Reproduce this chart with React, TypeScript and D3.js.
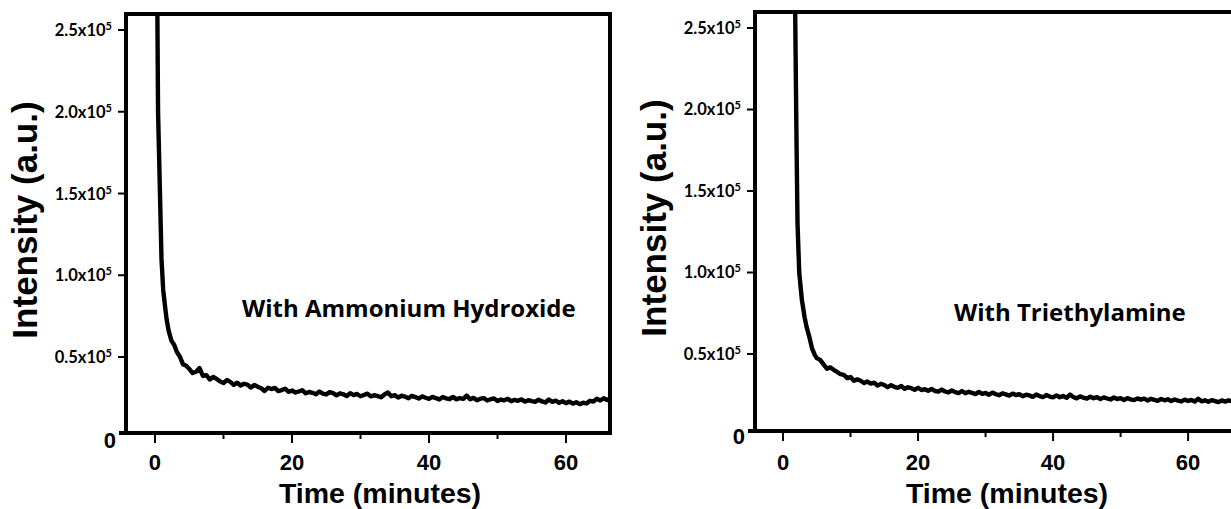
import React from "react";
import * as d3 from "d3";

// ---------- DATA ----------
const X_MAJOR_TICKS = [0, 20, 40, 60];
const X_MINOR_TICKS = [10, 30, 50];
const Y_TICKS = [50000, 100000, 150000, 200000, 250000];
const Y_TICK_MANTISSA = ["0.5", "1.0", "1.5", "2.0", "2.5"];
const Y_TICK_EXP = "5";
const X_TITLE = "Time (minutes)";
const Y_TITLE = "Intensity (a.u.)";
const LABEL_A = "With Ammonium Hydroxide";
const LABEL_B = "With Triethylamine";

// Panel A (ammonium hydroxide): time in minutes, intensity in thousands of counts
const TIME_A = [
  0.3, 0.35, 0.45, 0.73, 0.95, 1.2, 1.5, 1.7, 2.0, 2.4, 2.8, 3.2, 3.6, 4.1, 4.5,
  5.0, 5.5, 6.0, 6.5, 7.0, 7.5, 8.0, 8.5, 9.0, 9.5, 10.0, 10.5, 11.0, 11.5, 12.0, 12.5,
  13.0, 13.5, 14.0, 14.5, 15.0, 15.5, 16.0, 16.5, 17.0, 17.5, 18.0, 18.5, 19.0, 19.5,
  20.0, 20.5, 21.0, 21.5, 22.0, 22.5, 23.0, 23.5, 24.0, 24.5, 25.0, 25.5, 26.0, 26.5,
  27.0, 27.5, 28.0, 28.5, 29.0, 29.5, 30.0, 30.5, 31.0, 31.5, 32.0, 32.5, 33.0, 33.5,
  34.0, 34.5, 35.0, 35.5, 36.0, 36.5, 37.0, 37.5, 38.0, 38.5, 39.0, 39.5, 40.0, 40.5,
  41.0, 41.5, 42.0, 42.5, 43.0, 43.5, 44.0, 44.5, 45.0, 45.5, 46.0, 46.5, 47.0, 47.5,
  48.0, 48.5, 49.0, 49.5, 50.0, 50.5, 51.0, 51.5, 52.0, 52.5, 53.0, 53.5, 54.0, 54.5,
  55.0, 55.5, 56.0, 56.5, 57.0, 57.5, 58.0, 58.5, 59.0, 59.5, 60.0, 60.5, 61.0, 61.5,
  62.0, 62.5, 63.0, 63.5, 64.0, 64.5, 65.0, 65.5, 66.0, 66.4,
];
const INTENSITY_A = [
  400, 260, 200, 150, 110, 91, 80, 73, 66, 60, 57.5, 53.0, 50.5, 45.5, 44.8,
  42.8, 40.2, 41.0, 43.2, 38.4, 38.9, 36.3, 37.8, 36.6, 35.1, 34.1, 35.9, 34.8, 33.0, 34.3, 32.6,
  33.6, 33.1, 31.3, 32.9, 31.8, 30.9, 29.2, 31.2, 30.4, 31.1, 29.2, 29.8, 30.6, 28.7,
  29.5, 28.3, 28.9, 29.7, 27.8, 28.6, 28.1, 27.2, 28.9, 27.6, 27.1, 28.5, 27.9, 26.6,
  27.8, 27.2, 26.2, 27.9, 26.7, 27.4, 26.0, 26.8, 27.6, 25.9, 26.6, 26.1, 25.4, 27.1,
  28.3, 26.0, 26.7, 25.2, 26.3, 25.8, 24.8, 26.2, 25.5, 24.6, 25.9, 25.1, 24.4, 25.6,
  24.9, 24.0, 25.5, 24.7, 24.2, 25.6, 24.1, 24.9, 24.4, 26.4, 24.2, 25.0, 23.6, 24.5,
  24.9, 23.4, 24.2, 24.6, 23.1, 24.0, 23.5, 24.4, 22.9, 23.8, 23.2, 24.1, 22.7, 23.6,
  23.0, 22.6, 23.9, 22.8, 22.2, 24.0, 22.6, 23.3, 22.0, 22.9, 21.8, 22.7, 21.5, 22.3,
  21.2, 22.0, 21.6, 23.2, 22.8, 24.5, 23.4, 24.8, 23.7, 24.4,
];

// Panel B (triethylamine)
const TIME_B = [
  1.7, 1.8, 2.0, 2.15, 2.4, 2.8, 3.2, 3.5, 3.9, 4.3, 4.7,
  5.0, 5.5, 6.0, 6.5, 7.0, 7.5, 8.0, 8.5, 9.0, 9.5, 10.0, 10.5, 11.0, 11.5, 12.0, 12.5,
  13.0, 13.5, 14.0, 14.5, 15.0, 15.5, 16.0, 16.5, 17.0, 17.5, 18.0, 18.5, 19.0, 19.5,
  20.0, 20.5, 21.0, 21.5, 22.0, 22.5, 23.0, 23.5, 24.0, 24.5, 25.0, 25.5, 26.0, 26.5,
  27.0, 27.5, 28.0, 28.5, 29.0, 29.5, 30.0, 30.5, 31.0, 31.5, 32.0, 32.5, 33.0, 33.5,
  34.0, 34.5, 35.0, 35.5, 36.0, 36.5, 37.0, 37.5, 38.0, 38.5, 39.0, 39.5, 40.0, 40.5,
  41.0, 41.5, 42.0, 42.5, 43.0, 43.5, 44.0, 44.5, 45.0, 45.5, 46.0, 46.5, 47.0, 47.5,
  48.0, 48.5, 49.0, 49.5, 50.0, 50.5, 51.0, 51.5, 52.0, 52.5, 53.0, 53.5, 54.0, 54.5,
  55.0, 55.5, 56.0, 56.5, 57.0, 57.5, 58.0, 58.5, 59.0, 59.5, 60.0, 60.5, 61.0, 61.5,
  62.0, 62.5, 63.0, 63.5, 64.0, 64.5, 65.0, 65.5, 66.0, 66.5,
];
const INTENSITY_B = [
  400, 260, 180, 130, 100, 83, 72.5, 66.5, 60.5, 53.5, 49.5,
  47.5, 46.4, 43.6, 41.0, 41.8, 40.3, 39.0, 37.6, 37.2, 35.2, 35.9, 33.6, 34.4, 33.6, 32.2, 33.1,
  31.8, 32.4, 30.6, 31.7, 31.0, 29.6, 30.9, 29.8, 29.2, 30.4, 28.6, 29.6, 29.0, 28.0,
  29.3, 27.9, 28.4, 27.4, 28.6, 27.3, 26.9, 28.2, 27.0, 26.4, 27.6, 26.6, 26.0, 27.3,
  25.9, 26.8, 26.2, 25.4, 26.7, 25.6, 26.1, 25.0, 26.3, 25.4, 24.7, 25.9, 25.2, 24.5,
  25.7, 24.8, 25.3, 24.1, 25.0, 24.6, 23.7, 25.1, 24.2, 23.6, 24.8, 23.9, 23.4, 24.6,
  23.5, 24.2, 23.1, 25.1, 23.6, 22.8, 24.0, 23.2, 22.6, 23.8, 22.9, 23.5, 22.3, 23.4,
  22.7, 22.1, 23.3, 22.4, 22.9, 21.8, 22.9, 22.2, 21.7, 22.8, 22.0, 22.6, 21.5, 22.5,
  21.9, 21.3, 22.4, 21.6, 22.2, 21.1, 22.1, 21.4, 20.9, 22.0, 21.2, 21.8, 20.8, 22.6,
  21.0, 21.6, 20.7, 21.7, 21.1, 20.5, 21.5, 20.8, 21.6, 21.0,
];

// ---------- LAYOUT ----------
const W = 1231;
const H = 509;
const AXIS_FONT = "'Liberation Sans', Arial, sans-serif";
const TICK_FONT = "Lato, 'Open Sans', sans-serif";
const NOTE_FONT = "'Open Sans', Lato, sans-serif";

type PanelSpec = {
  id: string;
  left: number;
  right: number;
  top: number;
  bottom: number;
  xDomain: [number, number];
  yDomain: [number, number];
  time: number[];
  intensity: number[];
  label: string;
  labelX: number;
  labelY: number;
  yTitleX: number;
  yTitleY: number;
  xTitleX: number;
};

const PANELS: PanelSpec[] = [
  {
    id: "a",
    left: 126,
    right: 610,
    top: 14,
    bottom: 433,
    xDomain: [-4.23, 66.42],
    yDomain: [3520, 259790],
    time: TIME_A,
    intensity: INTENSITY_A,
    label: LABEL_A,
    labelX: 242,
    labelY: 317,
    yTitleX: 37,
    yTitleY: 220,
    xTitleX: 380,
  },
  {
    id: "b",
    left: 755,
    right: 1233,
    top: 12,
    bottom: 431,
    xDomain: [-4.15, 66.65],
    yDomain: [2760, 259815],
    time: TIME_B,
    intensity: INTENSITY_B,
    label: LABEL_B,
    labelX: 954,
    labelY: 321,
    yTitleX: 666,
    yTitleY: 218,
    xTitleX: 1007,
  },
];

function Panel({ p }: { p: PanelSpec }) {
  const x = d3.scaleLinear().domain(p.xDomain).range([p.left, p.right]);
  const y = d3.scaleLinear().domain(p.yDomain).range([p.bottom, p.top]);
  const pts: [number, number][] = p.time.map((t, i) => [t, p.intensity[i] * 1000]);
  const line = d3
    .line<[number, number]>()
    .x((d) => x(d[0]))
    .y((d) => y(d[1]))
    .curve(d3.curveLinear);
  const clipId = `clip-${p.id}`;
  return (
    <g>
      <defs>
        <clipPath id={clipId}>
          <rect x={p.left} y={p.top} width={p.right - p.left} height={p.bottom - p.top} />
        </clipPath>
      </defs>
      <path
        d={line(pts) || ""}
        fill="none"
        stroke="#000"
        strokeWidth={4.4}
        strokeLinejoin="round"
        clipPath={`url(#${clipId})`}
      />
      {/* frame */}
      <rect
        x={p.left}
        y={p.top}
        width={p.right - p.left}
        height={p.bottom - p.top}
        fill="none"
        stroke="#000"
        strokeWidth={4}
      />
      {/* axis extension to the left */}
      <line x1={p.left - 7} x2={p.left} y1={p.bottom} y2={p.bottom} stroke="#000" strokeWidth={4} />
      {/* x ticks */}
      {X_MAJOR_TICKS.map((t) => (
        <g key={`xm${t}`}>
          <line x1={x(t)} x2={x(t)} y1={p.bottom + 2} y2={p.bottom + 10} stroke="#000" strokeWidth={2} />
          <text
            x={x(t)}
            y={470}
            textAnchor="middle"
            fontFamily={AXIS_FONT}
            fontWeight="bold"
            fontSize={22}
          >
            {t}
          </text>
        </g>
      ))}
      {X_MINOR_TICKS.map((t) => (
        <line key={`xn${t}`} x1={x(t)} x2={x(t)} y1={p.bottom + 2} y2={p.bottom + 6} stroke="#000" strokeWidth={2} />
      ))}
      {/* y ticks */}
      {Y_TICKS.map((v, i) => (
        <g key={`y${v}`}>
          <line x1={p.left - 8} x2={p.left} y1={y(v)} y2={y(v)} stroke="#000" strokeWidth={2} />
          <text
            x={p.left - 14}
            y={y(v) + 6}
            textAnchor="end"
            fontFamily={TICK_FONT}
            fontWeight="bold"
            fontSize={16.5}
          >
            {`${Y_TICK_MANTISSA[i]}x10`}
            <tspan dy={-6} fontSize={11}>
              {Y_TICK_EXP}
            </tspan>
          </text>
        </g>
      ))}
      <text
        x={p.left - 10}
        y={y(0) + 9}
        textAnchor="end"
        fontFamily={AXIS_FONT}
        fontWeight="bold"
        fontSize={22}
      >
        0
      </text>
      {/* annotation */}
      <text x={p.labelX} y={p.labelY} fontFamily={NOTE_FONT} fontWeight="bold" fontSize={24}>
        {p.label}
      </text>
      {/* titles */}
      <text
        transform={`translate(${p.yTitleX},${p.yTitleY}) rotate(-90)`}
        textAnchor="middle"
        fontFamily={AXIS_FONT}
        fontWeight="bold"
        fontSize={35}
      >
        {Y_TITLE}
      </text>
      <text
        x={p.xTitleX}
        y={503}
        textAnchor="middle"
        fontFamily={AXIS_FONT}
        fontWeight="bold"
        fontSize={28.5}
      >
        {X_TITLE}
      </text>
    </g>
  );
}

export default function App() {
  return (
    <svg
      width={W}
      height={H}
      viewBox={`0 0 ${W} ${H}`}
      style={{ position: "absolute", left: 0, top: 0, background: "#fff", display: "block" }}
    >
      <rect x={0} y={0} width={W} height={H} fill="#fff" />
      {PANELS.map((p) => (
        <Panel key={p.id} p={p} />
      ))}
    </svg>
  );
}
